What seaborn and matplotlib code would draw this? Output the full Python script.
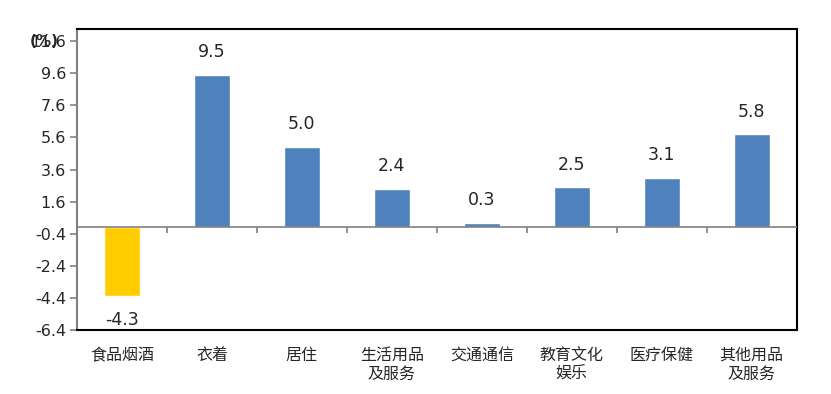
import numpy as np
import pandas as pd
import matplotlib
matplotlib.use('Agg')
import matplotlib.pyplot as plt
import seaborn as sns

categories = ['食品烟酒', '衣着', '居住', '生活用品\n及服务', '交通通信', '教育文化\n娱乐', '医疗保健', '其他用品\n及服务']
values = [-4.3, 9.5, 5.0, 2.4, 0.3, 2.5, 3.1, 5.8]
yticks = [-6.4, -4.4, -2.4, -0.4, 1.6, 3.6, 5.6, 7.6, 9.6, 11.6]

blue = '#4F81BD'
gold = '#FFCC00'

sns.set_style('white')
plt.rcParams['font.family'] = ['DejaVu Sans', 'Noto Sans CJK SC']

df = pd.DataFrame({'cat': categories, 'val': values})
palette = {c: (gold if v < 0 else blue) for c, v in zip(categories, values)}

fig = plt.figure(figsize=(8.31, 3.94), dpi=100)
ax = fig.add_axes([0.0927, 0.1624, 0.866, 0.7636])

sns.barplot(data=df, x='cat', y='val', hue='cat', palette=palette,
            width=0.4, legend=False, saturation=1, ax=ax)

ax.set_ylim(-6.4, 12.35)
ax.set_xlim(-0.5, len(categories) - 0.5)
ax.set_yticks(yticks)
ax.set_yticklabels([f'{t:.1f}' for t in yticks], fontsize=11.5)
ax.set_xticks(range(len(categories)))
ax.set_xticklabels(categories, fontsize=11.5, linespacing=1.3)
ax.set_xlabel('')
ax.set_ylabel('')

# frame
for s in ['top', 'right', 'bottom']:
    ax.spines[s].set_color('black')
    ax.spines[s].set_linewidth(1.5)
ax.spines['left'].set_color('#808080')
ax.spines['left'].set_linewidth(1.5)
ax.tick_params(axis='y', which='both', left=True, length=5, width=1.2,
               color='#808080', pad=3)
ax.tick_params(axis='x', bottom=False, length=0, pad=13)

# zero line with category boundary ticks
ax.axhline(0, color='#808080', lw=1.2, zorder=3)
bounds = np.arange(len(categories) - 1) + 0.5
ax.vlines(bounds, -0.35, 0, color='#808080', lw=1.2, zorder=3)

for i, v in enumerate(values):
    if v >= 0:
        ax.text(i, v + 0.85, f'{v:.1f}', ha='center', va='bottom', fontsize=12.5)
    else:
        ax.text(i, v - 0.9, f'{v:.1f}', ha='center', va='top', fontsize=12.5)

fig.text(0.036, 0.895, '(%)', fontsize=11, fontweight='bold', ha='left', va='center')

fig.savefig('out.png', dpi=100)
